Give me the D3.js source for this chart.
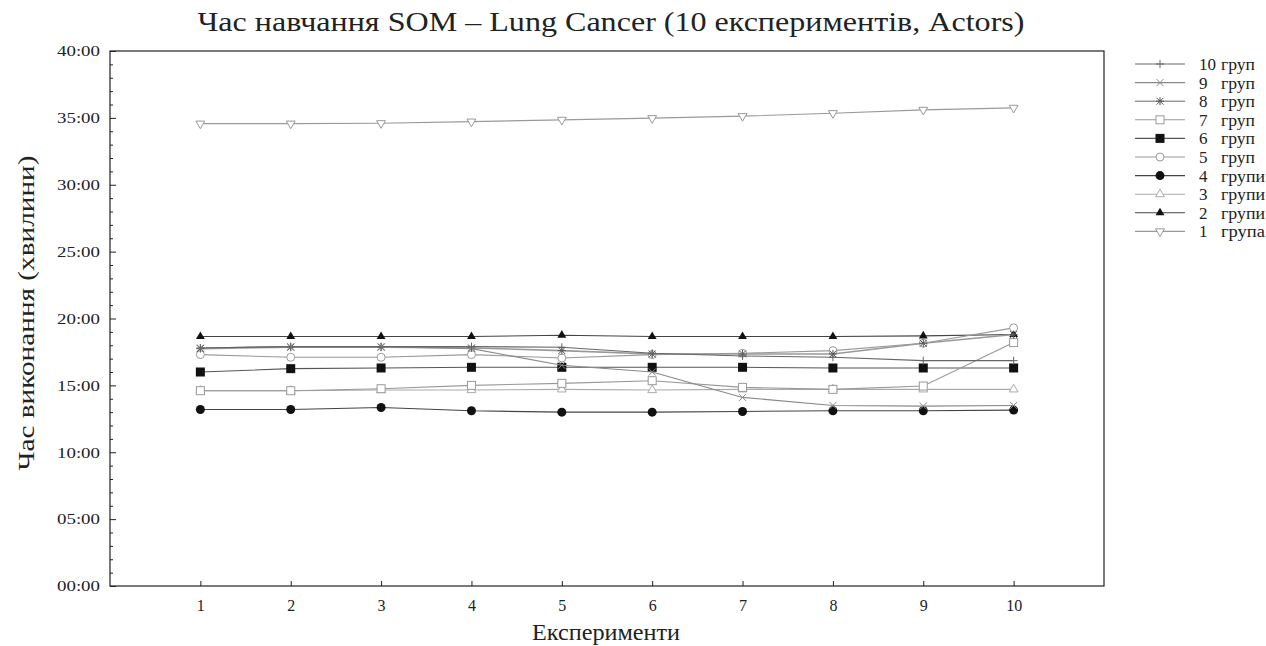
<!DOCTYPE html>
<html>
<head>
<meta charset="utf-8">
<script src="https://cdn.jsdelivr.net/npm/d3@7"></script>
<style>
  body { margin: 0; background: #fff; }
  text { font-family: "Liberation Serif", "DejaVu Serif", serif; fill: #222; }
</style>
</head>
<body>
<div id="chart-container"></div>
<script>
// experiments on x axis
const experiments = [1, 2, 3, 4, 5, 6, 7, 8, 9, 10];

// training time in minutes
const groups10 = [17.8, 17.9, 17.9, 17.9, 17.85, 17.4, 17.2, 17.1, 16.85, 16.85];
const groups9 = [17.8, 17.9, 17.9, 17.75, 16.5, 16.0, 14.1, 13.5, 13.45, 13.5];
const groups8 = [17.75, 17.85, 17.85, 17.8, 17.6, 17.35, 17.35, 17.35, 18.15, 18.8];
const groups7 = [14.6, 14.6, 14.75, 15.0, 15.15, 15.35, 14.85, 14.7, 14.95, 18.2];
const groups6 = [16.0, 16.25, 16.3, 16.35, 16.35, 16.35, 16.35, 16.3, 16.3, 16.3];
const groups5 = [17.3, 17.1, 17.1, 17.3, 17.05, 17.3, 17.4, 17.6, 18.15, 19.3];
const groups4 = [13.2, 13.2, 13.35, 13.1, 13.0, 13.0, 13.05, 13.1, 13.1, 13.15];
const groups3 = [14.6, 14.6, 14.65, 14.65, 14.7, 14.65, 14.7, 14.7, 14.7, 14.7];
const groups2 = [18.65, 18.65, 18.65, 18.65, 18.75, 18.65, 18.65, 18.65, 18.7, 18.8];
const groups1 = [34.57, 34.57, 34.6, 34.72, 34.85, 34.98, 35.13, 35.35, 35.6, 35.75];

const seriesNames = ["10 груп", "9 груп", "8 груп", "7 груп", "6 груп", "5 груп", "4 групи", "3 групи", "2 групи", "1 група"];
const yTicks = [0, 5, 10, 15, 20, 25, 30, 35, 40];

const series = [
  { name: seriesNames[0], values: groups10, color: "#666", marker: "plus" },
  { name: seriesNames[1], values: groups9, color: "#888", marker: "cross" },
  { name: seriesNames[2], values: groups8, color: "#999", marker: "star", width: 1.6 },
  { name: seriesNames[3], values: groups7, color: "#999", marker: "square" },
  { name: seriesNames[4], values: groups6, color: "#555", marker: "squareFill" },
  { name: seriesNames[5], values: groups5, color: "#999", marker: "circle" },
  { name: seriesNames[6], values: groups4, color: "#444", marker: "circleFill" },
  { name: seriesNames[7], values: groups3, color: "#aaa", marker: "triangle" },
  { name: seriesNames[8], values: groups2, color: "#444", marker: "triangleFill" },
  { name: seriesNames[9], values: groups1, color: "#999", marker: "triangleDown" }
];

const W = 1266, H = 646;
const margin = { top: 51, right: 162, bottom: 60, left: 110 };
const width = W - margin.left - margin.right;
const height = H - margin.top - margin.bottom;

const svg = d3.select("#chart-container").append("svg")
  .attr("width", W)
  .attr("height", H);

const g = svg.append("g")
  .attr("transform", `translate(${margin.left},${margin.top})`);

const x = d3.scaleLinear().domain([0, 11]).range([0, width]);
const y = d3.scaleLinear().domain([0, 40]).range([height, 0]);

const fmt = v => String(v).padStart(2, "0") + ":00";

// frame
g.append("rect")
  .attr("width", width).attr("height", height)
  .attr("fill", "none").attr("stroke", "#222").attr("stroke-width", 1.2);

// y axis: major ticks inside + minor every minute
const yAxis = g.append("g")
  .call(d3.axisLeft(y).tickValues(yTicks).tickSize(-6).tickPadding(10).tickFormat(fmt));
yAxis.select(".domain").remove();
yAxis.selectAll("text").style("font-size", "15px")
  .attr("textLength", 43).attr("lengthAdjust", "spacingAndGlyphs");
yAxis.selectAll("line").attr("stroke", "#222");

g.append("g")
  .call(d3.axisLeft(y).tickValues(d3.range(0, 41).filter(v => v % 5 !== 0)).tickSize(-3).tickFormat(""))
  .call(a => a.select(".domain").remove())
  .selectAll("line").attr("stroke", "#222");

// x axis
const xAxis = g.append("g")
  .attr("transform", `translate(0,${height})`)
  .call(d3.axisBottom(x).tickValues(experiments).tickSize(-5).tickPadding(14).tickFormat(d3.format("d")));
xAxis.select(".domain").remove();
xAxis.selectAll("text").style("font-size", "16px");
xAxis.selectAll("line").attr("stroke", "#222");

// labels
svg.append("text")
  .attr("x", 611).attr("y", 31)
  .attr("text-anchor", "middle")
  .attr("textLength", 827).attr("lengthAdjust", "spacingAndGlyphs")
  .style("font-size", "28px")
  .text("Час навчання SOM – Lung Cancer (10 експериментів, Actors)");

svg.append("text")
  .attr("x", 606).attr("y", 640)
  .attr("text-anchor", "middle")
  .attr("textLength", 148).attr("lengthAdjust", "spacingAndGlyphs")
  .style("font-size", "23px")
  .text("Експерименти");

svg.append("text")
  .attr("transform", "translate(34,313) rotate(-90)")
  .attr("text-anchor", "middle")
  .attr("textLength", 315).attr("lengthAdjust", "spacingAndGlyphs")
  .style("font-size", "24px")
  .text("Час виконання (хвилини)");

// marker drawing
function drawMarker(sel, kind, color) {
  const tri = d3.symbol().type(d3.symbolTriangle).size(34)();
  switch (kind) {
    case "plus":
      sel.append("path").attr("d", "M-4,0H4M0,-4V4").attr("stroke", color).attr("fill", "none");
      break;
    case "cross":
      sel.append("path").attr("d", "M-3.5,-3.5L3.5,3.5M-3.5,3.5L3.5,-3.5").attr("stroke", color).attr("fill", "none");
      break;
    case "star":
      sel.append("path").attr("d", "M-3.5,-3.5L3.5,3.5M-3.5,3.5L3.5,-3.5M-4,0H4M0,-4V4").attr("stroke", "#555").attr("fill", "none");
      break;
    case "square":
      sel.append("rect").attr("x", -4).attr("y", -4).attr("width", 8).attr("height", 8)
        .attr("fill", "#fff").attr("stroke", color);
      break;
    case "squareFill":
      sel.append("rect").attr("x", -4.5).attr("y", -4.5).attr("width", 9).attr("height", 9).attr("fill", "#111");
      break;
    case "circle":
      sel.append("circle").attr("r", 4).attr("fill", "#fff").attr("stroke", color);
      break;
    case "circleFill":
      sel.append("circle").attr("r", 4.5).attr("fill", "#111");
      break;
    case "triangle":
      sel.append("path").attr("d", tri).attr("fill", "#fff").attr("stroke", color);
      break;
    case "triangleFill":
      sel.append("path").attr("d", tri).attr("fill", "#111");
      break;
    case "triangleDown":
      sel.append("path").attr("d", tri).attr("transform", "rotate(180)").attr("fill", "#fff").attr("stroke", color);
      break;
  }
}

const line = d3.line()
  .x((d, i) => x(experiments[i]))
  .y(d => y(d));

// draw from the last legend item to the first so top items sit on top
series.slice().reverse().forEach(s => {
  g.append("path")
    .datum(s.values)
    .attr("fill", "none")
    .attr("stroke", s.color)
    .attr("stroke-width", s.width || 1.1)
    .attr("d", line);

  s.values.forEach((v, i) => {
    const m = g.append("g").attr("transform", `translate(${x(experiments[i])},${y(v)})`);
    drawMarker(m, s.marker, s.color);
  });
});

// legend
const legend = svg.append("g").attr("transform", "translate(1135,64)");
series.forEach((s, i) => {
  const row = legend.append("g").attr("transform", `translate(0,${i * 18.6})`);
  row.append("line").attr("x1", 0).attr("x2", 50).attr("y1", 0).attr("y2", 0)
    .attr("stroke", s.color).attr("stroke-width", s.width || 1.1);
  drawMarker(row.append("g").attr("transform", "translate(25,0)"), s.marker, s.color);
  const parts = s.name.split(" ");
  row.append("text").attr("x", 64).attr("y", 6).style("font-size", "17px").text(parts[0]);
  row.append("text").attr("x", 86).attr("y", 6).style("font-size", "16px")
    .attr("textLength", parts[1].length === 4 ? 34 : 44).attr("lengthAdjust", "spacingAndGlyphs")
    .text(parts[1]);
});
</script>
</body>
</html>
